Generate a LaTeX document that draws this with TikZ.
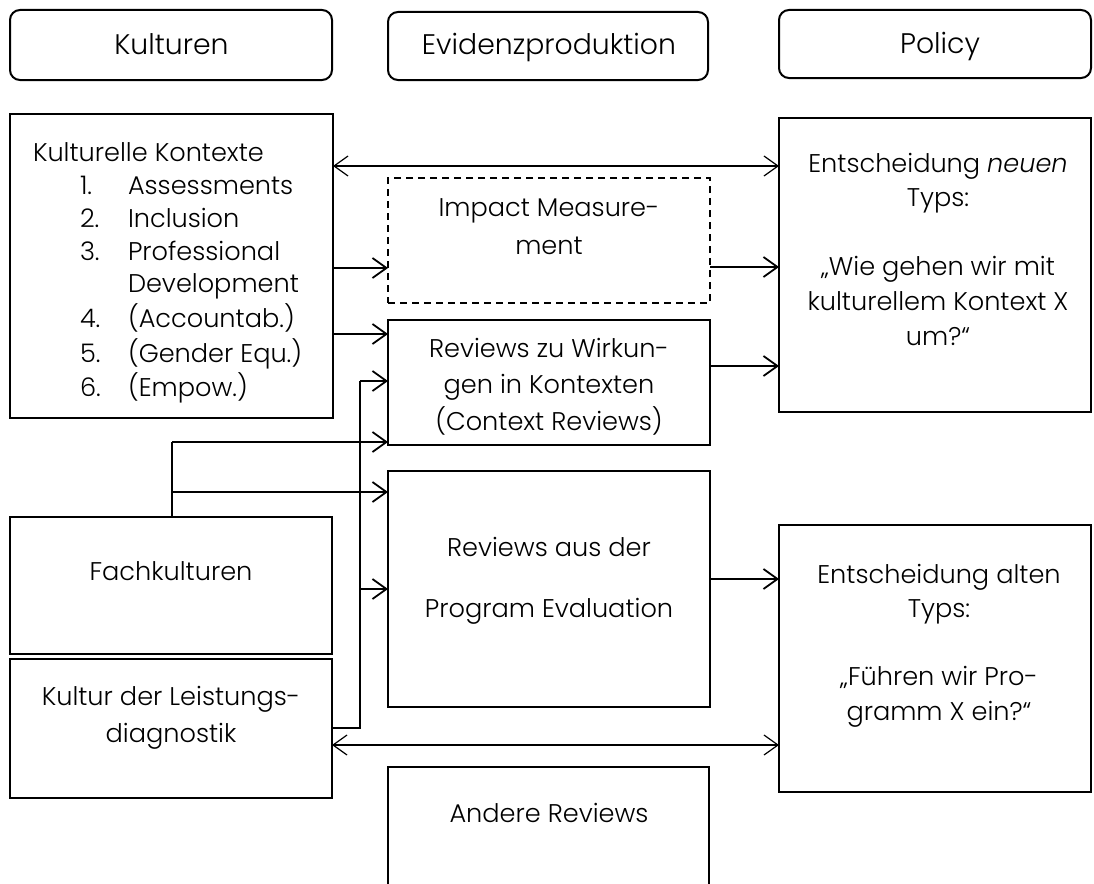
\documentclass[tikz,border=0pt]{standalone}
\usepackage{fontspec}
\setmainfont{Poppins}[UprightFont=* Light, ItalicFont=* Light Italic]
\usetikzlibrary{arrows.meta}
\begin{document}
\begin{tikzpicture}[x=1pt,y=-1pt,
  box/.style={draw, line width=2pt, inner sep=0pt, outer sep=0pt, anchor=north west},
  head/.style={box, rounded corners=10pt},
  dashbox/.style={box, dash pattern=on 7pt off 5pt},
  txt/.style={inner sep=0pt, outer sep=0pt, align=center},
  htxt/.style={txt, anchor=base, font=\fontsize{28.3}{34}\selectfont},
  arr/.style={line width=1.8pt, -{Straight Barb[length=14pt,width=20pt]}},
  dbl/.style={line width=1.2pt, {Straight Barb[length=14pt,width=20pt]}-{Straight Barb[length=14pt,width=20pt]}},
  wire/.style={line width=1.8pt}]
\useasboundingbox (0,0) rectangle (1094,883);

% column headers
\node[head, minimum width=322pt, minimum height=70pt] (hK) at (10,10) {};
\node[head, minimum width=320pt, minimum height=68pt] (hE) at (388,12) {};
\node[head, minimum width=312pt, minimum height=68pt] (hP) at (779,10) {};
\node[htxt] (tK) at (171.5,55) {Kulturen};
\node[htxt] (tE) at (549,55) {Evidenzproduktion};
\node[htxt] (tP) at (940,53) {Policy};

% left column
\node[box, minimum width=323pt, minimum height=304pt] (kk) at (10,114) {};
\node[box, minimum width=322pt, minimum height=137pt] (fk) at (10,517) {};
\node[box, minimum width=322pt, minimum height=139pt] (ld) at (10,659) {};

% middle column
\node[dashbox, minimum width=322pt, minimum height=125pt] (im) at (388,178) {};
\node[box, minimum width=322pt, minimum height=125pt] (rw) at (388,320) {};
\node[box, minimum width=322pt, minimum height=236pt] (pe) at (388,471) {};
\node[box, minimum width=321pt, minimum height=140pt] (ar) at (388,767) {};

% right column
\node[box, minimum width=312pt, minimum height=294pt] (p1) at (779,118) {};
\node[box, minimum width=312pt, minimum height=267pt] (p2) at (779,525) {};

% texts
\node[txt, anchor=north west, align=left, font=\fontsize{25.6}{32.7}\selectfont] (tkk) at (33,139.1)
  {\strut Kulturelle Kontexte\\
   \strut\hspace*{47pt}\makebox[48pt][l]{1.}Assessments\\
   \strut\hspace*{47pt}\makebox[48pt][l]{2.}Inclusion\\
   \strut\hspace*{47pt}\makebox[48pt][l]{3.}Professional\\
   \strut\hspace*{95pt}Development\\
   \strut\hspace*{47pt}\makebox[48pt][l]{4.}(Accountab.)\\
   \strut\hspace*{47pt}\makebox[48pt][l]{5.}(Gender Equ.)\\
   \strut\hspace*{47pt}\makebox[48pt][l]{6.}(Empow.)};
\node[txt, anchor=base, font=\fontsize{25.6}{34}\selectfont] (tfk) at (171,580) {Fachkulturen};
\node[txt, font=\fontsize{25.6}{37}\selectfont] (tld) at (171,716.1)
  {\strut Kultur der Leistungs-\\ \strut diagnostik};

\node[txt, font=\fontsize{25.6}{38}\selectfont] (tim) at (549,227.4)
  {\strut Impact Measure-\\ \strut ment};
\node[txt, font=\fontsize{25.6}{36.5}\selectfont] (trw) at (549,386.2)
  {\strut Reviews zu Wirkun-\\ \strut gen in Kontexten\\ \strut (Context Reviews)};
\node[txt, font=\fontsize{25.6}{30.5}\selectfont] (tpe) at (549,580.4)
  {\strut Reviews aus der\\ \strut\\ \strut Program Evaluation};
\node[txt, anchor=base, font=\fontsize{25.6}{34}\selectfont] (tar) at (549,822) {Andere Reviews};

\node[txt, font=\fontsize{25.6}{34.6}\selectfont] (tp1) at (938,251.6)
  {\strut Entscheidung \textit{neuen}\\ \strut Typs:\\ \strut\\ \strut „Wie gehen wir mit\\ \strut kulturellem Kontext X\\ \strut um?“};
\node[txt, font=\fontsize{25.6}{34.25}\selectfont] (tp2) at (939,644.65)
  {\strut Entscheidung alten\\ \strut Typs:\\ \strut\\ \strut „Führen wir Pro-\\ \strut gramm X ein?“};

% connectors
\draw[dbl] (kk.east |- 0,166) -- (p1.west |- 0,166);
\draw[dbl] (ld.east |- 0,745) -- (p2.west |- 0,745);

\draw[arr] (kk.east |- 0,268) -- (im.west |- 0,268);
\draw[arr] (kk.east |- 0,334) -- (rw.west |- 0,334);
\draw[arr] (im.east |- 0,267) -- (p1.west |- 0,267);
\draw[arr] (rw.east |- 0,366) -- (p1.west |- 0,366);
\draw[arr] (pe.east |- 0,579) -- (p2.west |- 0,579);

% Fachkulturen feeds both review boxes
\coordinate (fkTop) at (172,442);
\coordinate (fkMid) at (172,492);
\draw[wire] (fk.north -| fkTop) -- (fkTop);
\draw[arr] (fkTop) -- (rw.west |- fkTop);
\draw[arr] (fkMid) -- (pe.west |- fkMid);

% Leistungsdiagnostik feeds both review boxes
\coordinate (ldOut) at (360,728);
\coordinate (ldUp) at (360,381);
\coordinate (ldMid) at (360,589);
\draw[wire] (ld.east |- ldOut) -- (ldOut) -- (ldUp);
\draw[arr] (ldUp) -- (rw.west |- ldUp);
\draw[arr] (ldMid) -- (pe.west |- ldMid);
\end{tikzpicture}
\end{document}
